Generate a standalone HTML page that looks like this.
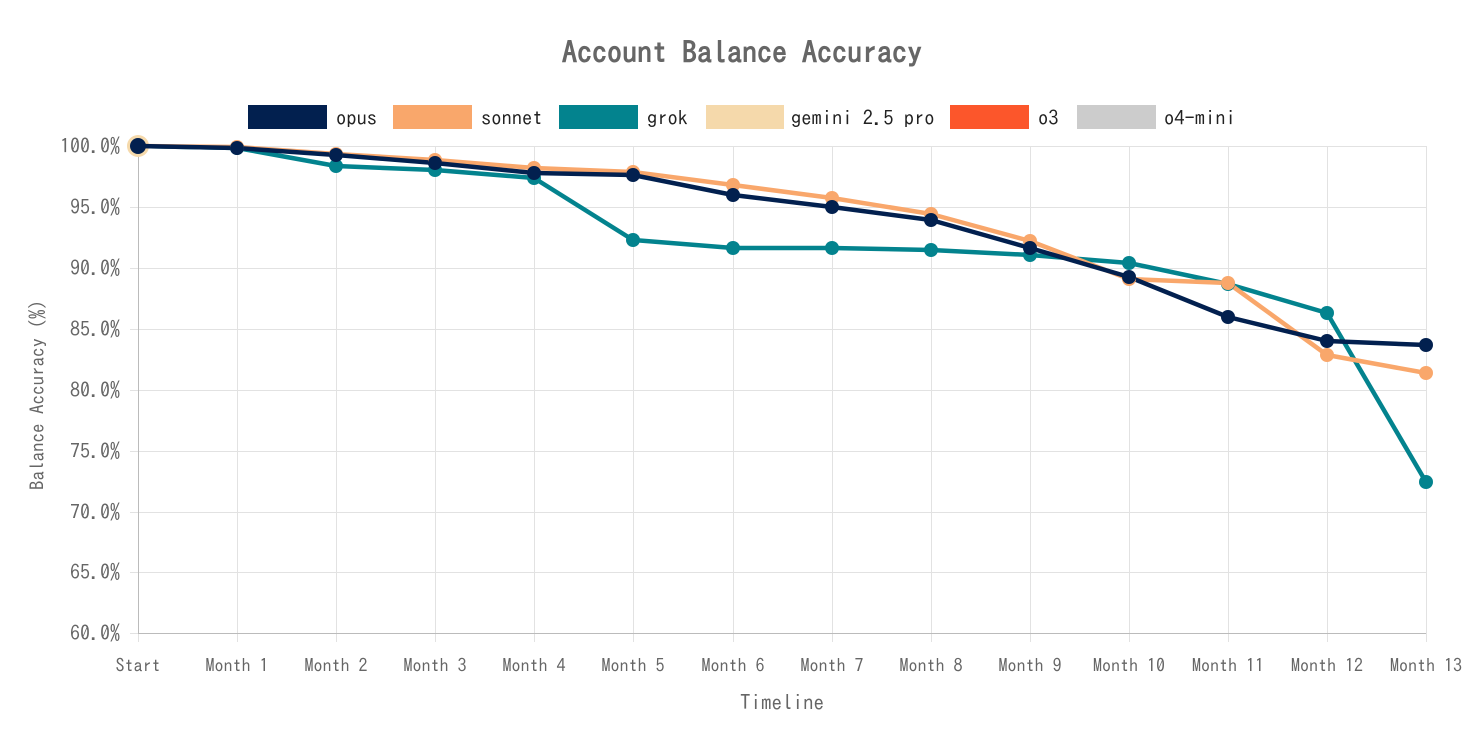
<!DOCTYPE html>
<html><head><meta charset="utf-8"><style>
html,body{margin:0;padding:0;background:#fff;}
svg text{font-family:"IPAGothic","Noto Sans CJK JP",sans-serif;}
</style></head><body>
<svg width="1481" height="737" viewBox="0 0 1481 737" xmlns="http://www.w3.org/2000/svg">
<text x="742" y="63" text-anchor="middle" font-size="30" font-weight="bold" fill="#666">Account Balance Accuracy</text>
<g font-size="20.5" fill="#222">
<rect x="248" y="105" width="79" height="24" fill="#02204f"/><text x="336" y="125">opus</text>
<rect x="393" y="105" width="79" height="24" fill="#f9a76b"/><text x="481" y="125">sonnet</text>
<rect x="559" y="105" width="79" height="24" fill="#03838e"/><text x="647" y="125">grok</text>
<rect x="706" y="105" width="78" height="24" fill="#f5d9ab"/><text x="791" y="125">gemini 2.5 pro</text>
<rect x="950" y="105" width="79" height="24" fill="#fc562b"/><text x="1038" y="125">o3</text>
<rect x="1077" y="105" width="79" height="24" fill="#cccccc"/><text x="1164" y="125">o4-mini</text>
</g>
<g stroke="#e2e2e2" stroke-width="1">
<line x1="130" x2="1426" y1="146.5" y2="146.5"/><line x1="130" x2="1426" y1="207.5" y2="207.5"/>
<line x1="130" x2="1426" y1="268.5" y2="268.5"/><line x1="130" x2="1426" y1="329.5" y2="329.5"/>
<line x1="130" x2="1426" y1="390.5" y2="390.5"/><line x1="130" x2="1426" y1="451.5" y2="451.5"/>
<line x1="130" x2="1426" y1="512.5" y2="512.5"/><line x1="130" x2="1426" y1="572.5" y2="572.5"/>
<line x1="130" x2="1426" y1="633.5" y2="633.5"/>
<line x1="138.5" x2="138.5" y1="146" y2="642"/><line x1="237.5" x2="237.5" y1="146" y2="642"/>
<line x1="336.5" x2="336.5" y1="146" y2="642"/><line x1="435.5" x2="435.5" y1="146" y2="642"/>
<line x1="534.5" x2="534.5" y1="146" y2="642"/><line x1="633.5" x2="633.5" y1="146" y2="642"/>
<line x1="733.5" x2="733.5" y1="146" y2="642"/><line x1="832.5" x2="832.5" y1="146" y2="642"/>
<line x1="931.5" x2="931.5" y1="146" y2="642"/><line x1="1030.5" x2="1030.5" y1="146" y2="642"/>
<line x1="1129.5" x2="1129.5" y1="146" y2="642"/><line x1="1228.5" x2="1228.5" y1="146" y2="642"/>
<line x1="1327.5" x2="1327.5" y1="146" y2="642"/><line x1="1426.5" x2="1426.5" y1="146" y2="642"/>
</g>
<line x1="138.5" x2="138.5" y1="146" y2="634" stroke="#bbb"/>
<line x1="138" x2="1426" y1="633.5" y2="633.5" stroke="#bbb"/>
<g font-size="20" fill="#666" text-anchor="end">
<text x="120" y="153">100.0%</text><text x="120" y="214">95.0%</text><text x="120" y="275">90.0%</text>
<text x="120" y="336">85.0%</text><text x="120" y="397">80.0%</text><text x="120" y="458">75.0%</text>
<text x="120" y="519">70.0%</text><text x="120" y="579">65.0%</text><text x="120" y="640">60.0%</text>
</g>
<g font-size="18" fill="#666" text-anchor="middle">
<text x="138" y="672">Start</text><text x="237" y="672">Month 1</text><text x="336" y="672">Month 2</text>
<text x="435" y="672">Month 3</text><text x="534" y="672">Month 4</text><text x="633" y="672">Month 5</text>
<text x="733" y="672">Month 6</text><text x="832" y="672">Month 7</text><text x="931" y="672">Month 8</text>
<text x="1030" y="672">Month 9</text><text x="1129" y="672">Month 10</text><text x="1228" y="672">Month 11</text>
<text x="1327" y="672">Month 12</text><text x="1426" y="672">Month 13</text>
</g>
<text x="782" y="710" text-anchor="middle" font-size="21" fill="#666">Timeline</text>
<text transform="translate(44,395) rotate(-90)" text-anchor="middle" font-size="19" fill="#666">Balance Accuracy (%)</text>
<circle cx="138" cy="146" r="11" fill="#f5d9ab"/>
<g fill="none" stroke-width="4.5" stroke-linejoin="round">
<polyline stroke="#03838e" points="138,146 237,148 336,166 435,170 534,178 633,240 733,248 832,248 931,250 1030,255 1129,263 1228,284 1327,313 1426,482"/>
<polyline stroke="#f9a76b" points="138,146 237,147 336,154 435,160 534,168 633,172 733,185 832,198 931,214 1030,241 1129,279 1228,283 1327,355 1426,373"/>
<polyline stroke="#02204f" points="138,146 237,148 336,155 435,163 534,173 633,175 733,195 832,207 931,220 1030,248 1129,277 1228,317 1327,341 1426,345"/>
</g>
<g fill="#03838e">
<circle cx="237" cy="148" r="7"/><circle cx="336" cy="166" r="7"/><circle cx="435" cy="170" r="7"/><circle cx="534" cy="178" r="7"/><circle cx="633" cy="240" r="7"/><circle cx="733" cy="248" r="7"/><circle cx="832" cy="248" r="7"/><circle cx="931" cy="250" r="7"/><circle cx="1030" cy="255" r="7"/><circle cx="1129" cy="263" r="7"/><circle cx="1228" cy="284" r="7"/><circle cx="1327" cy="313" r="7"/><circle cx="1426" cy="482" r="7"/>
</g>
<g fill="#f9a76b">
<circle cx="237" cy="147" r="7"/><circle cx="336" cy="154" r="7"/><circle cx="435" cy="160" r="7"/><circle cx="534" cy="168" r="7"/><circle cx="633" cy="172" r="7"/><circle cx="733" cy="185" r="7"/><circle cx="832" cy="198" r="7"/><circle cx="931" cy="214" r="7"/><circle cx="1030" cy="241" r="7"/><circle cx="1129" cy="279" r="7"/><circle cx="1228" cy="283" r="7"/><circle cx="1327" cy="355" r="7"/><circle cx="1426" cy="373" r="7"/>
</g>
<g fill="#02204f">
<circle cx="138" cy="146" r="8"/><circle cx="237" cy="148" r="7"/><circle cx="336" cy="155" r="7"/><circle cx="435" cy="163" r="7"/><circle cx="534" cy="173" r="7"/><circle cx="633" cy="175" r="7"/><circle cx="733" cy="195" r="7"/><circle cx="832" cy="207" r="7"/><circle cx="931" cy="220" r="7"/><circle cx="1030" cy="248" r="7"/><circle cx="1129" cy="277" r="7"/><circle cx="1228" cy="317" r="7"/><circle cx="1327" cy="341" r="7"/><circle cx="1426" cy="345" r="7"/>
</g>
</svg>
</body></html>
